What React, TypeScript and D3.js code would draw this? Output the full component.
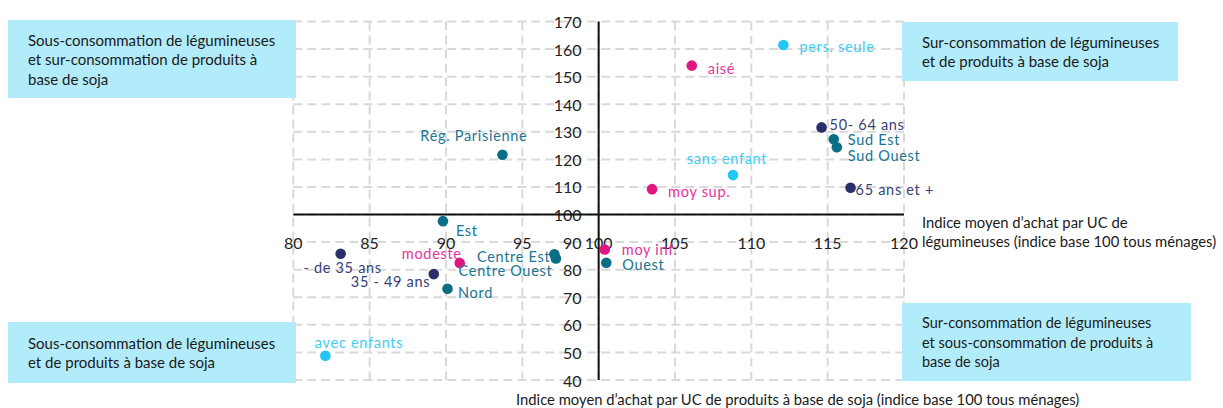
import React from "react";
import * as d3 from "d3";

// indices (base 100 tous ménages)
const labels = [
  "pers. seule", "aisé", "50- 64 ans", "Sud Est", "Sud Ouest", "sans enfant",
  "moy sup.", "65 ans et +", "Rég. Parisienne", "Est", "modeste", "- de 35 ans",
  "35 - 49 ans", "Nord", "Centre Est", "Centre Ouest", "moy inf.", "Ouest", "avec enfants",
];
const groups = [
  "foyer", "revenu", "age", "region", "region", "foyer",
  "revenu", "age", "region", "region", "revenu", "age",
  "age", "region", "region", "region", "revenu", "region", "foyer",
];
const legumineuses = [
  112.1, 106.1, 114.6, 115.4, 115.6, 108.8,
  103.5, 116.5, 93.7, 89.8, 90.9, 83.1,
  89.2, 90.1, 97.1, 97.2, 100.4, 100.5, 82.1,
];
const soja = [
  161.5, 154.0, 131.6, 127.3, 124.4, 114.3,
  109.2, 109.7, 121.7, 97.6, 82.4, 85.8,
  78.4, 73.1, 85.6, 84.1, 87.3, 82.5, 48.8,
];
const xTicks = d3.range(80, 121, 5);
const yTicks = d3.range(40, 171, 10);

const quadrants = [
  { lines: ["Sous-consommation de légumineuses", "et sur-consommation de produits à", "base de soja"], x: 8, y: 20, w: 288, h: 78, calibri: false },
  { lines: ["Sur-consommation de légumineuses", "et de produits à base de soja"], x: 902, y: 22, w: 276, h: 59, calibri: false },
  { lines: ["Sous-consommation de légumineuses", "et de produits à base de soja"], x: 8, y: 322, w: 288, h: 61, calibri: false },
  { lines: ["Sur-consommation de légumineuses", "et sous-consommation de produits à", "base de soja"], x: 902, y: 303, w: 289, h: 78, calibri: true },
];

const colors: Record<string, string> = {
  age: "#2a2f6a",
  region: "#0a6e84",
  revenu: "#e0157f",
  foyer: "#22c7f4",
};
const textColors: Record<string, string> = {
  age: "#3a3f78",
  region: "#1a7590",
  revenu: "#e5339a",
  foyer: "#3dcdf5",
};

// label placement around each dot: [anchor, dx, dy]
const labelPos: Record<string, [string, number, number]> = {
  "pers. seule": ["start", 16, 2],
  "aisé": ["start", 16, 3],
  "50- 64 ans": ["start", 8, -3],
  "Sud Est": ["start", 14, 0],
  "Sud Ouest": ["start", 11, 8],
  "sans enfant": ["middle", -6, -17],
  "moy sup.": ["start", 16, 2.5],
  "65 ans et +": ["start", 5, 1.5],
  "Rég. Parisienne": ["end", 25, -19],
  "Est": ["start", 13, 9],
  "modeste": ["end", 2, -10],
  "- de 35 ans": ["middle", 2, 13.5],
  "35 - 49 ans": ["end", -3.5, 7],
  "Nord": ["start", 10.5, 3.5],
  "Centre Est": ["end", -4, 2.5],
  "Centre Ouest": ["end", -3.5, 12.5],
  "moy inf.": ["start", 17, 0],
  "Ouest": ["start", 16, 2],
  "avec enfants": ["start", -10.5, -13.5],
};

const W = 1223;
const H = 408;
const FONT = "Lato, 'Open Sans', sans-serif";

export default function App() {
  const x = d3.scaleLinear().domain([80, 120]).range([293.3, 904]);
  const y = d3.scaleLinear().domain([40, 170]).range([380, 21.5]);

  const points = labels.map((name, i) => ({
    name,
    group: groups[i],
    x: legumineuses[i],
    y: soja[i],
  }));

  return (
    <svg
      width={W}
      height={H}
      style={{ position: "absolute", left: 0, top: 0, background: "#fff" }}
      fontFamily={FONT}
    >
      {/* grid */}
      <g stroke="#d9d9d9" strokeWidth={2} strokeDasharray="9 5">
        {xTicks.map((t) => (
          <line key={`gx${t}`} x1={x(t)} x2={x(t)} y1={y(170)} y2={y(40)} />
        ))}
        {yTicks.map((t) => (
          <line key={`gy${t}`} x1={x(80)} x2={x(120)} y1={y(t)} y2={y(t)} />
        ))}
      </g>

      {/* tick labels */}
      <g fontSize={16} fill="#222">
        {xTicks.map((t) => (
          <text key={`tx${t}`} x={x(t)} y={y(90)} textAnchor="middle" dominantBaseline="central">
            {t}
          </text>
        ))}
        {yTicks.map((t) => (
          <text key={`ty${t}`} x={x(100) - 17} y={y(t)} textAnchor="end" dominantBaseline="central">
            {t}
          </text>
        ))}
      </g>

      {/* axes crossing at 100/100 */}
      <line x1={x(80)} x2={x(120)} y1={y(100)} y2={y(100)} stroke="#111" strokeWidth={2} />
      <line x1={x(100)} x2={x(100)} y1={y(170)} y2={y(40)} stroke="#111" strokeWidth={2} />

      {/* quadrant boxes */}
      {quadrants.map((q, i) => (
        <g key={`q${i}`}>
          <rect x={q.x} y={q.y} width={q.w} height={q.h} fill="#b2ecfb" />
          {q.lines.map((l, j) => (
            <text
              key={j}
              x={q.x + 20}
              y={q.y + (q.h - (q.lines.length - 1) * 19.5) / 2 + j * 19.5}
              dominantBaseline="central"
              fontSize={q.calibri ? 14.5 : 15}
              fill="#1a1a1a"
            >
              {l}
            </text>
          ))}
        </g>
      ))}

      {/* points */}
      {points.map((p) => (
        <circle key={`c${p.name}`} cx={x(p.x)} cy={y(p.y)} r={5.3} fill={colors[p.group]} />
      ))}
      <g fontSize={14.5} letterSpacing={0.7}>
        {points.map((p) => {
          const [anchor, dx, dy] = labelPos[p.name];
          return (
            <text
              key={`l${p.name}`}
              x={x(p.x) + dx}
              y={y(p.y) + dy}
              textAnchor={anchor}
              dominantBaseline="central"
              fill={textColors[p.group]}
            >
              {p.name}
            </text>
          );
        })}
      </g>

      {/* axis titles */}
      <g fontSize={14.8} fill="#1a1a1a">
        <text x={922} y={222} dominantBaseline="central">Indice moyen d’achat par UC de</text>
        <text x={922} y={241} dominantBaseline="central">légumineuses (indice base 100 tous ménages)</text>
        <text x={516} y={399} dominantBaseline="central">
          Indice moyen d’achat par UC de produits à base de soja (indice base 100 tous ménages)
        </text>
      </g>
    </svg>
  );
}
